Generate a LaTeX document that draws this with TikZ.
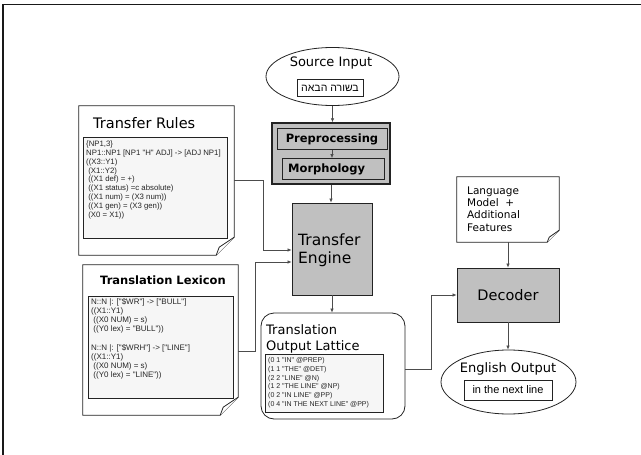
\documentclass[tikz,border=0pt]{standalone}
\usepackage{fontspec}
\setmainfont{DejaVu Sans}
\newfontfamily\smallfont{Liberation Sans}
\newfontfamily\hebfont[Script=Hebrew]{Liberation Sans}
\TeXXeTstate=1
\usetikzlibrary{shapes.geometric,arrows.meta}
\definecolor{boxgray}{RGB}{192,192,192}
\definecolor{lightfill}{RGB}{246,246,246}
\definecolor{linecol}{RGB}{35,35,35}
\newcommand\docoutline[4]{%
  \draw[docline] (#1.north west) -- (#1.north east) -- ([yshift=#2]#1.south east) -- ([xshift=-#2]#1.south east) -- (#1.south west) -- cycle;
  \draw[docline] ([xshift=-#2]#1.south east) -- ([xshift=-#3,yshift=#4]#1.south east) -- ([yshift=#2]#1.south east);
}
\begin{document}
\begin{tikzpicture}[x=1pt,y=-1pt,
  docline/.style={draw=linecol, line width=0.8pt, fill=white},
  conn/.style={draw=black!70, line width=0.7pt, -{Latex[length=4pt,width=3.5pt]}},
  graybox/.style={rectangle, draw=linecol, line width=0.8pt, fill=boxgray, inner sep=0},
  textbox/.style={rectangle, draw=linecol, line width=0.8pt, fill=lightfill, inner sep=0},
  plain/.style={rectangle, inner sep=0},
  code/.style={inner sep=0, anchor=north west, align=left, text=black!85},
  fTitle/.style={font=\fontsize{13}{16}\selectfont},
  fBold/.style={font=\bfseries\fontsize{11.5}{13}\selectfont},
]
\useasboundingbox (0,0) rectangle (641,455);
\draw[line width=1.1pt, black!90] (3,455) -- (3,4.5) -- (641,4.5);

% Source input
\node[ellipse, draw=linecol, line width=0.8pt, minimum width=133pt, minimum height=58pt, inner sep=0] (src) at (332.5,76.5) {};
\node[fTitle, inner sep=0] (srct) at (331,63) {Source Input};
\node[rectangle, draw=linecol, line width=0.8pt, minimum width=66pt, minimum height=17pt, inner sep=0, font=\hebfont\fontsize{10.5}{12}\selectfont] (heb) at (330,88) {\beginR בשורה הבאה\endR};

% Preprocessing
\node[graybox, line width=1.4pt, minimum width=118pt, minimum height=61pt] (prep) at (331,153.5) {};
\node[graybox, minimum width=110pt, minimum height=21pt, fBold] (pre) at (332,139) {Preprocessing};
\node[graybox, minimum width=102pt, minimum height=21pt] (mor) at (333,169) {};
\node[fBold, inner sep=0, anchor=west] (mort) at (288,169.5) {Morphology};

% Transfer engine
\node[graybox, minimum width=80pt, minimum height=92pt] (eng) at (332,249) {};
\node[font=\fontsize{15.5}{18}\selectfont, align=left, anchor=west, inner sep=0] (engt) at (298,250) {Transfer\\Engine};

% Transfer rules document
\node[plain, minimum width=155pt, minimum height=149pt] (tr) at (156.5,180.5) {};
\docoutline{tr}{18pt}{15pt}{8pt}
\node[font=\fontsize{14.5}{17}\selectfont, inner sep=0, anchor=west] (trt) at (93,123) {Transfer Rules};
\node[textbox, minimum width=144pt, minimum height=101pt] (trin) at (155.5,188) {};
\node[code, font=\smallfont\fontsize{7.8}{8.9}\selectfont] (trx) at (86,140.5) {\{NP1,3\}\\NP1::NP1 [NP1 "H" ADJ] -> [ADJ NP1]\\((X3::Y1)\\\ (X1::Y2)\\\ ((X1 def) = +)\\\ ((X1 status) =c absolute)\\\ ((X1 num) = (X3 num))\\\ ((X1 gen) = (X3 gen))\\\ (X0 = X1))};

% Translation lexicon document
\node[plain, minimum width=155pt, minimum height=150pt] (tl) at (160.5,340) {};
\docoutline{tl}{18pt}{15pt}{8pt}
\node[fBold, inner sep=0] (tlt) at (163,280) {Translation Lexicon};
\node[textbox, minimum width=145pt, minimum height=102pt] (tlin) at (160.5,347) {};
\node[code, font=\smallfont\fontsize{8}{9.1}\selectfont] (tlx) at (91,298.5) {N::N |: ["\$WR"] -> ["BULL"]\\((X1::Y1)\\\ ((X0 NUM) = s)\\\ ((Y0 lex) = "BULL"))\\[9pt]N::N |: ["\$WRH"] -> ["LINE"]\\((X1::Y1)\\\ ((X0 NUM) = s)\\\ ((Y0 lex) = "LINE"))};

% Translation output lattice
\node[rectangle, rounded corners=13pt, draw=linecol, line width=0.8pt, fill=white, minimum width=144pt, minimum height=106pt] (lat) at (333,366) {};
\node[fTitle, align=left, anchor=west, inner sep=0] (latt) at (266,338.5) {Translation\\Output Lattice};
\node[textbox, minimum width=118pt, minimum height=58pt] (latin) at (324,383) {};
\node[code, font=\smallfont\fontsize{7}{8.7}\selectfont] (latx) at (268,357.5) {(0 1 "IN" @PREP)\\(1 1 "THE" @DET)\\(2 2 "LINE" @N)\\(1 2 "THE LINE" @NP)\\(0 2 "IN LINE" @PP)\\(0 4 "IN THE NEXT LINE" @PP)};

% Language model document
\node[plain, minimum width=102pt, minimum height=65pt] (lm) at (508,209.5) {};
\docoutline{lm}{12pt}{10pt}{5pt}
\node[font=\fontsize{10.5}{12.2}\selectfont, align=left, anchor=west, inner sep=0] (lmt) at (467,209) {Language\\Model\ \ +\\Additional\\Features};

% Decoder
\node[graybox, minimum width=102pt, minimum height=54pt, font=\fontsize{14.5}{17}\selectfont] (dec) at (508,295) {Decoder};

% English output
\node[ellipse, draw=linecol, line width=0.8pt, minimum width=135pt, minimum height=64pt, inner sep=0] (eout) at (508.5,382) {};
\node[fTitle, inner sep=0] (eoutt) at (508,369) {English Output};
\node[rectangle, draw=linecol, line width=0.8pt, minimum width=88pt, minimum height=20pt, inner sep=0, font=\smallfont\fontsize{11}{13}\selectfont] (eoutb) at (508,390) {in the next line};

% junction coordinates
\coordinate (j1) at (263,0);
\coordinate (j2) at (255,0);
\coordinate (j3) at (431,0);
\coordinate (t1) at ([yshift=-1pt]eng.west);
\coordinate (t2) at ([yshift=-13pt]eng.west);
\coordinate (s2) at ([yshift=-11pt]tl.east);
\coordinate (s3) at ([yshift=-3pt]lat.east);

% connectors
\draw[conn] (src.south) -- (src.south |- prep.north);
\draw[conn] (pre.south) -- (pre.south |- mor.north);
\draw[conn] (prep.south) -- (prep.south |- eng.north);
\draw[conn] (tr.east) -| (j1 |- t1) -- (t1);
\draw[conn] (s2) -| (j2 |- t2) -- (t2);
\draw[conn] (eng.south) -- (eng.south |- lat.north);
\draw[conn] (s3) -| (j3 |- dec.west) -- (dec.west);
\draw[conn] (lm.south) -- (lm.south |- dec.north);
\draw[conn] (dec.south) -- (dec.south |- eout.north);
\end{tikzpicture}
\end{document}
